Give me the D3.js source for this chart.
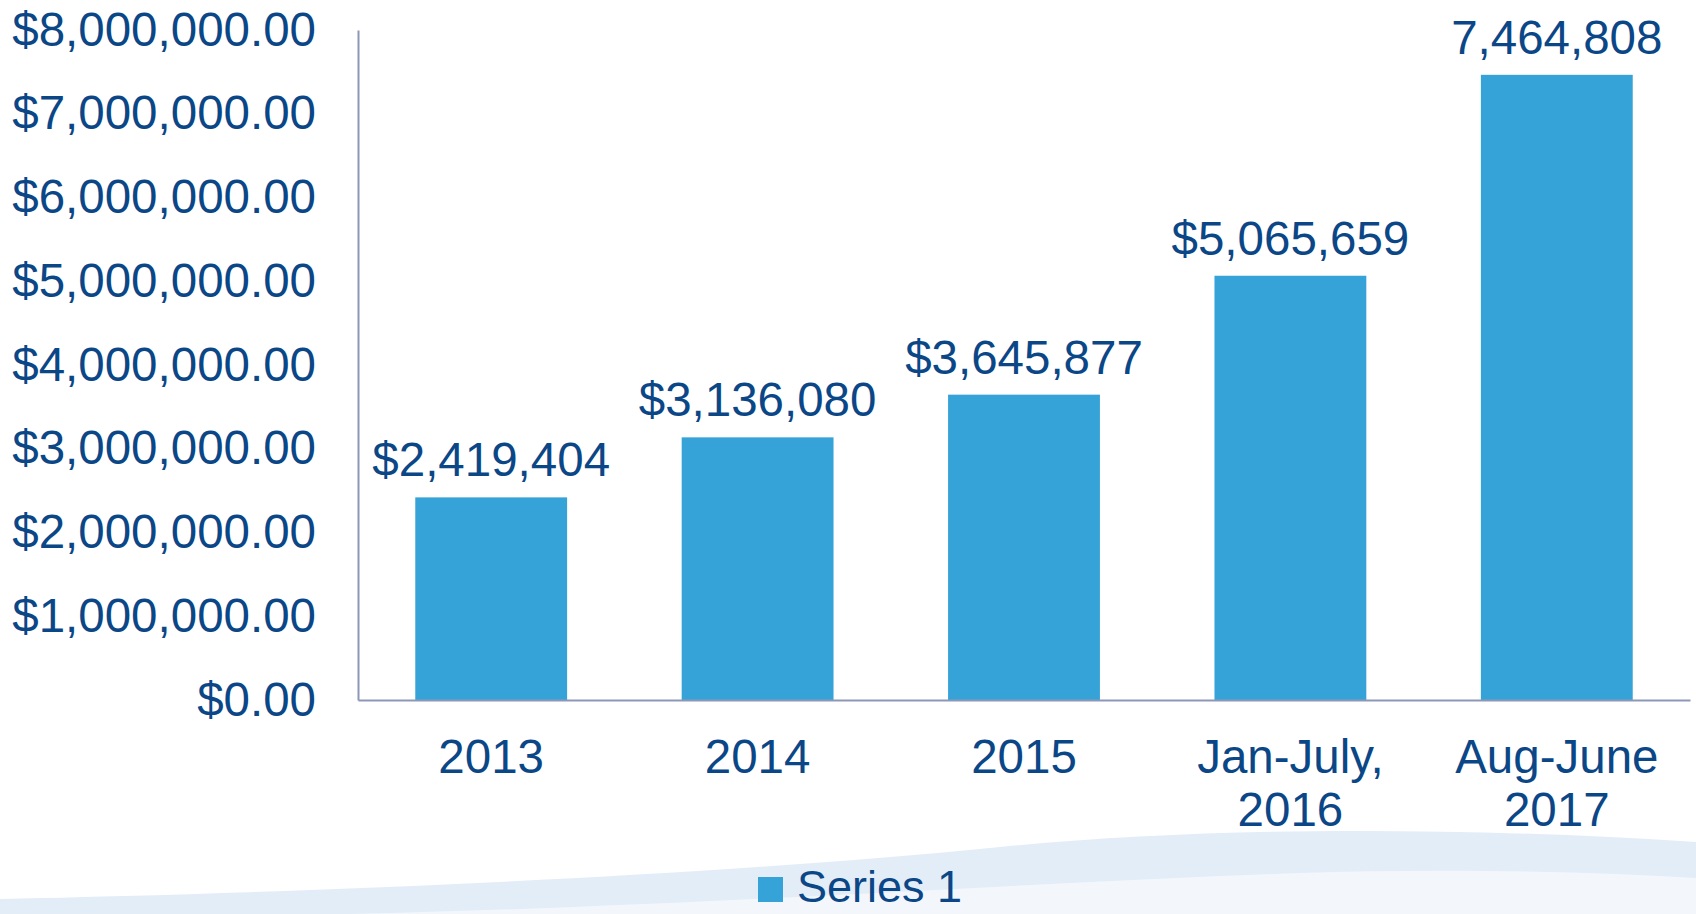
<!DOCTYPE html>
<html>
<head>
<meta charset="utf-8">
<script src="https://cdn.jsdelivr.net/npm/d3@7"></script>
<style>
  html, body { margin: 0; padding: 0; background: #ffffff; }
  svg { display: block; }
  text { font-family: "Liberation Sans", Arial, sans-serif; }
</style>
</head>
<body>
<svg id="chart" width="1696" height="914"></svg>
<script>
// ---- data ----
const categories = [["2013"], ["2014"], ["2015"], ["Jan-July,", "2016"], ["Aug-June", "2017"]];
const values = [2419404, 3136080, 3645877, 5065659, 7464808];
const valueLabels = ["$2,419,404", "$3,136,080", "$3,645,877", "$5,065,659", "7,464,808"];
const yTicks = [0, 1000000, 2000000, 3000000, 4000000, 5000000, 6000000, 7000000, 8000000];
const seriesName = "Series 1";

// ---- styles ----
const W = 1696, H = 914;
const textColor = "#0b4787";
const barColor = "#35a3d7";
const axisColor = "#8d97b7";
const fontSize = 47.5;

const svg = d3.select("#chart");

// decorative background swoosh
svg.append("path")
  .attr("d", "M0,899 C300,893 700,877 1000,847 C1200,827 1450,826 1696,842 L1696,914 L0,914 Z")
  .attr("fill", "#e3edf7");
svg.append("path")
  .attr("d", "M350,914 C700,906 1000,884 1300,873 C1450,868 1600,872 1696,878 L1696,914 Z")
  .attr("fill", "#f3f7fc");

const plotLeft = 358, plotRight = 1690, plotTop = 30, plotBottom = 700;

const x = d3.scaleBand()
  .domain(d3.range(categories.length))
  .range([plotLeft, plotRight])
  .paddingInner(0.43)
  .paddingOuter(0.215);

const y = d3.scaleLinear()
  .domain([0, 8000000])
  .range([plotBottom, plotTop]);

// bars
svg.append("g").selectAll("rect")
  .data(values)
  .join("rect")
  .attr("x", (d, i) => x(i))
  .attr("y", d => y(d))
  .attr("width", x.bandwidth())
  .attr("height", d => y(0) - y(d))
  .attr("fill", barColor);

// y axis
const fmt = d3.format(",.2f");
const yAxis = d3.axisLeft(y)
  .tickValues(yTicks)
  .tickSize(0)
  .tickPadding(42)
  .tickFormat(d => "$" + fmt(d));
const gy = svg.append("g")
  .attr("transform", `translate(${plotLeft},0)`)
  .call(yAxis);
gy.select(".domain").attr("stroke", axisColor).attr("stroke-width", 2);
gy.selectAll("text")
  .attr("fill", textColor)
  .attr("font-size", fontSize)
  .attr("font-family", "Liberation Sans, Arial, sans-serif");

// x axis
const xAxis = d3.axisBottom(x).tickSize(0).tickFormat(() => "");
const gx = svg.append("g")
  .attr("transform", `translate(0,${plotBottom})`)
  .call(xAxis);
gx.select(".domain").attr("stroke", axisColor).attr("stroke-width", 2);

// category labels
const catG = svg.append("g");
categories.forEach((lines, i) => {
  const t = catG.append("text")
    .attr("x", x(i) + x.bandwidth() / 2)
    .attr("y", plotBottom + 73)
    .attr("text-anchor", "middle")
    .attr("fill", textColor)
    .attr("font-size", fontSize);
  lines.forEach((ln, j) => {
    t.append("tspan")
      .attr("x", x(i) + x.bandwidth() / 2)
      .attr("dy", j === 0 ? 0 : 53)
      .text(ln);
  });
});

// value labels
svg.append("g").selectAll("text")
  .data(values)
  .join("text")
  .attr("x", (d, i) => x(i) + x.bandwidth() / 2)
  .attr("y", d => y(d) - 21)
  .attr("text-anchor", "middle")
  .attr("fill", textColor)
  .attr("font-size", fontSize)
  .text((d, i) => valueLabels[i]);

// legend
const lg = svg.append("g").attr("transform", "translate(758,877)");
lg.append("rect").attr("x", 0).attr("y", 0).attr("width", 25).attr("height", 25).attr("fill", barColor);
lg.append("text")
  .attr("x", 39)
  .attr("y", 25)
  .attr("fill", textColor)
  .attr("font-size", 45)
  .text(seriesName);
</script>
</body>
</html>
